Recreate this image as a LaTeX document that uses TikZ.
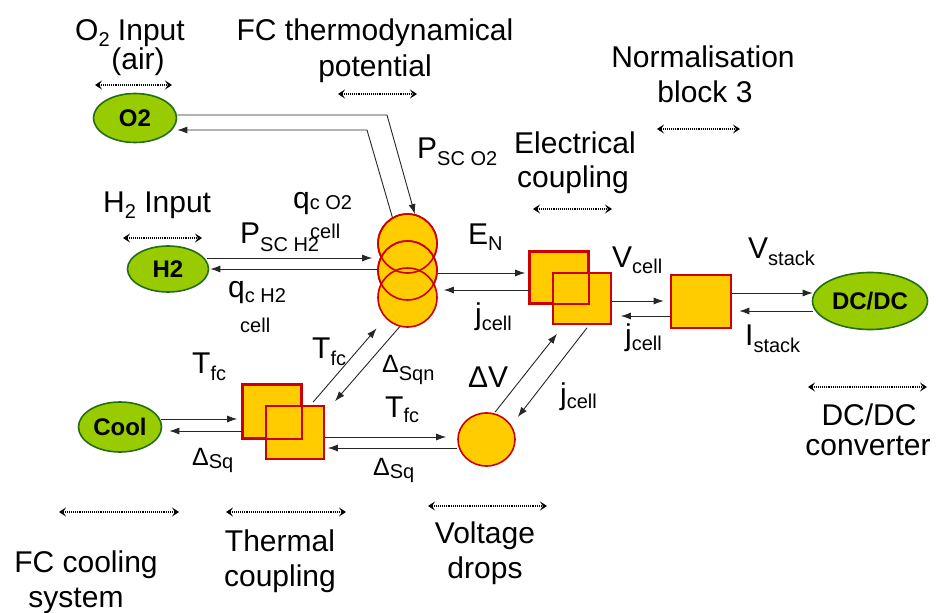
\documentclass[tikz,border=0pt]{standalone}
\usepackage{fontspec}
\setmainfont{Liberation Sans}
\usetikzlibrary{arrows.meta,calc,shapes.geometric}
\definecolor{gfill}{RGB}{153,204,0}
\definecolor{gline}{RGB}{35,110,20}
\definecolor{ofill}{RGB}{255,204,0}
\definecolor{rline}{RGB}{204,0,0}
\newcommand\sbf{\fontsize{20}{24}\selectfont}
\newcommand\lo[2]{\raisebox{-#1pt}{\sbf #2}}
\newcommand\dlt{{\fontsize{25}{25}\selectfont Δ}}
\begin{document}
\begin{tikzpicture}[x=1pt,y=-1pt,
 lab/.style={font=\fontsize{30}{36}\selectfont, inner sep=0pt, anchor=base},
 labw/.style={lab, anchor=base west},
 gell/.style={ellipse, draw=gline, line width=1.6pt, fill=gfill, inner sep=0pt, font=\fontsize{24}{24}\selectfont\bfseries},
 obox/.style={rectangle, draw=rline, line width=1.6pt, fill=ofill, inner sep=0pt, minimum width=58pt, minimum height=52pt},
 ocirc/.style={circle, draw=rline, line width=1.6pt, fill=ofill, inner sep=0pt, minimum size=59pt},
 rstroke/.style={draw=rline, line width=1.6pt},
 arr/.style={draw=black!85, line width=0.9pt, -{Latex[length=10pt,width=7pt]}},
 span/.style={densely dotted, line width=1.1pt, {Stealth[length=7pt,width=9pt,inset=3pt]}-{Stealth[length=7pt,width=9pt,inset=3pt]}},
]
\useasboundingbox (0,0) rectangle (938,613);

% ---- green ellipses
\node[gell, minimum width=83pt, minimum height=49pt] (O2) at (135,118) {O2};
\node[gell, minimum width=81pt, minimum height=46pt] (H2) at (168,269) {H2};
\node[gell, minimum width=83pt, minimum height=50pt] (Cool) at (120,427) {Cool};
\node[gell, minimum width=115pt, minimum height=57pt] (DC) at (870,301) {DC/DC};

% ---- triple circle (thermodynamical potential)
\node[ocirc] (c1) at (407.5,243.5) {};
\node[ocirc] (c2) at (407.5,270.5) {};
\node[ocirc] (c3) at (407.5,297.5) {};
\draw[rstroke] (c1.center) circle[radius=29.5pt];
\draw[rstroke] (c2.center) circle[radius=29.5pt];

% ---- electrical coupling
\node[obox, minimum height=51pt] (e1) at (559,277.5) {};
\node[obox, minimum height=51pt] (e2) at (582,298.5) {};
\draw[rstroke] (e1.south west) rectangle (e1.north east);

% ---- thermal coupling
\node[obox, minimum height=53pt] (t1) at (272,411.5) {};
\node[obox, minimum height=53pt] (t2) at (295,432.5) {};
\draw[rstroke] (t1.south west) rectangle (t1.north east);

% ---- normalisation block
\node[obox, line width=2.6pt, minimum width=60pt, minimum height=53pt] (N) at (701,301.5) {};

% ---- voltage drops
\node[ellipse, draw=rline, line width=1.6pt, fill=ofill, inner sep=0pt, minimum width=57pt, minimum height=53pt] (VD) at (486.5,439.5) {};

% ---- connectors
\draw[arr] ($(O2.east)+(0,-3)$) -- (387,115) -- (c1.76);
\draw[arr] (c1.120) -- (367,130) -- ($(O2.east)+(0,12)$);
\draw[arr] ($(H2.east)+(-2,-11)$) -- ($(c2.west)+(-5,-12.5)$);
\draw[arr] ($(c2.west)+(0,-1.5)$) -- ($(H2.east)+(1,0)$);
\draw[arr] ($(c2.east)+(0,2.5)$) -- ($(e1.west)+(-4,-4.5)$);
\draw[arr] ($(e1.west)+(0,12.5)$) -- ($(c3.east)+(6,-7.5)$);
\draw[arr] ($(e2.east)+(0,2.5)$) -- ($(N.west)+(-6,-0.5)$);
\draw[arr] ($(N.west)+(0,14.5)$) -- ($(e2.east)+(9,17.5)$);
\draw[arr] ($(N.east)+(0,-8.5)$) -- ($(DC.west)+(1,-8)$);
\draw[arr] ($(DC.west)+(1,10)$) -- ($(N.east)+(7,9.5)$);
\draw[arr] ($(Cool.east)+(-1,-8)$) -- ($(t1.west)+(-5,7.5)$);
\draw[arr] ($(t1.west)+(0,19.5)$) -- ($(Cool.east)+(7,4)$);
\draw[arr] ($(t2.east)+(0,4.5)$) -- ($(VD.west)+(-11,-2.5)$);
\draw[arr] ($(VD.west)+(0,8.5)$) -- ($(t2.east)+(3,15.5)$);
\draw[arr] ($(t2.north)+(18,-3)$) -- ($(c3.225)+(-9.5,9.5)$);
\draw[arr] (c3.255) -- ($(t2.north)+(40,-4)$);
\draw[arr] ($(VD.north)+(8.5,0)$) -- ($(e2.south)+(-25,9)$);
\draw[arr] ($(e2.south)+(5,3)$) -- ($(VD.east)+(2,-22.5)$);

% ---- dotted span arrows
\draw[span] (95,85) -- (172,85);
\draw[span] (338,94) -- (417,94);
\draw[span] (123,238) -- (202,238);
\draw[span] (533,209) -- (612,209);
\draw[span] (657,129) -- (740,129);
\draw[span] (808,387) -- (927,387);
\draw[span] (59,512) -- (179,512);
\draw[span] (226,512) -- (346,512);
\draw[span] (428,506) -- (547,506);

% ---- labels
\node[labw] (tO2a) at (75,40) {O\lo{6}{2} Input};
\node[lab] (tO2b) at (138,69) {(air)};
\node[lab] (tFCa) at (375,41) {FC thermodynamical};
\node[lab] (tFCb) at (375,76) {potential};
\node[lab] (tNa) at (703,67) {Normalisation};
\node[lab] (tNb) at (705,102) {block 3};
\node[lab] (tEa) at (575,153) {Electrical};
\node[lab] (tEb) at (573,187) {coupling};
\node[labw] (tH2) at (103,212) {H\lo{6}{2} Input};
\node[labw] (tPO2) at (417,158) {P\lo{7}{SC O2}};
\node[labw] (tqO2) at (293,208) {q\lo{1}{c O2}};
\node[labw, font=\sbf] (tqO2c) at (310,238) {cell};
\node[labw] (tPH2) at (240,243) {P\lo{8}{SC H2}};
\node[labw] (tqH2) at (228,297) {q\lo{5}{c H2}};
\node[labw, font=\sbf] (tqH2c) at (240,332) {cell};
\node[labw] (tEN) at (468,244) {E\lo{6}{N}};
\node[labw] (tj1) at (475,324) {j\lo{6}{cell}};
\node[labw] (tVc) at (612,267) {V\lo{6}{cell}};
\node[labw] (tj2) at (625,345) {j\lo{5}{cell}};
\node[labw] (tVs) at (748,258) {V\lo{7}{stack}};
\node[labw] (tIs) at (745,345) {I\lo{7}{stack}};
\node[labw] (tT1) at (192,373) {T\lo{7}{fc}};
\node[labw] (tD1) at (192,465) {\dlt\lo{3}{Sq}};
\node[labw] (tT2) at (312,358) {T\lo{7}{fc}};
\node[labw] (tD2) at (382,372) {\dlt\lo{8}{Sqn}};
\node[labw] (tT3) at (385,417) {T\lo{5}{fc}};
\node[labw] (tD3) at (373,475) {\dlt\lo{3}{Sq}};
\node[labw] (tDV) at (468,387) {ΔV};
\node[labw] (tj3) at (560,404) {j\lo{4}{cell}};
\node[lab] (tDCa) at (869,425) {DC/DC};
\node[lab] (tDCb) at (868,455) {converter};
\node[lab] (tFCc) at (86,572) {FC cooling};
\node[lab] (tFCs) at (76,607) {system};
\node[lab] (tTh) at (280,551) {Thermal};
\node[lab] (tTc) at (280,586) {coupling};
\node[lab] (tVo) at (485,543) {Voltage};
\node[lab] (tVd) at (485,578) {drops};
\end{tikzpicture}
\end{document}
